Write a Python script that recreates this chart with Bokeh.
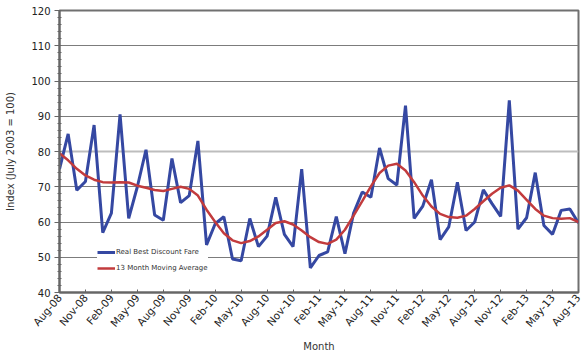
import math
from bokeh.plotting import figure
from bokeh.models import (ColumnDataSource, FixedTicker, SingleIntervalTicker, Legend, LegendItem, Grid, Range1d)
from bokeh.embed import file_html
from bokeh.resources import INLINE

# ---- data (monthly, Aug-08 .. Aug-13) ----
fare = [75, 85, 69, 71.5, 87.5, 57, 62.5, 90.5, 61, 70,
        80.5, 62, 60.5, 78, 65.5, 67.5, 83, 53.5, 59.5, 61.5,
        49.5, 49, 61, 53, 56, 67, 56.5, 53, 75, 47,
        50.5, 51.5, 61.5, 51, 62.5, 68.5, 67, 81, 72.3, 70.5,
        93, 61, 64.5, 72, 55, 58.6, 71.3, 57.6, 60, 69.1,
        65.2, 61.6, 94.5, 58, 61.2, 74, 59, 56.5, 63.3, 63.7,
        59.7]
moving_avg = [79.5, 77.5, 75.1, 73.2, 72, 71.3, 71.2, 71.3, 71.2, 70.3,
              69.7, 69.1, 68.8, 69.4, 70, 69.4, 67.5, 63.5, 60, 56.8,
              54.8, 54, 54.6, 55.9, 57.8, 59.7, 60.2, 59.3, 57.6, 55.7,
              54.3, 53.8, 55, 57.8, 61.8, 65.9, 70.1, 73.9, 76, 76.5,
              74.6, 71.3, 67.5, 64.4, 62.3, 61.4, 61.2, 61.8, 63.7, 65.9,
              68, 69.7, 70.4, 68.9, 66.3, 63.7, 61.8, 61.1, 60.9, 61.1,
              60]
tick_labels = ["Aug-08", "Nov-08", "Feb-09", "May-09", "Aug-09", "Nov-09", "Feb-10",
               "May-10", "Aug-10", "Nov-10", "Feb-11", "May-11", "Aug-11", "Nov-11",
               "Feb-12", "May-12", "Aug-12", "Nov-12", "Feb-13", "May-13", "Aug-13"]
month_idx = list(range(len(fare)))
tick_pos = [3 * k for k in range(len(tick_labels))]

FONT = "DejaVu Sans"
BLUE = "#3548a2"
RED = "#c23b3d"

src = ColumnDataSource(dict(x=month_idx, fare=fare, ma=moving_avg))

p = figure(width=582, height=357, output_backend="svg", toolbar_location=None,
           x_range=Range1d(0, len(fare) - 1), y_range=Range1d(40, 120),
           min_border_left=59, min_border_right=4, min_border_top=10, min_border_bottom=65)
p.background_fill_color = "white"
p.border_fill_color = "white"
p.outline_line_color = "#707070"
p.outline_line_width = 2

r1 = p.line("x", "fare", source=src, line_color=BLUE, line_width=3)
r2 = p.line("x", "ma", source=src, line_color=RED, line_width=2.5)

# axes
p.xaxis.ticker = FixedTicker(ticks=tick_pos)
p.xaxis.major_label_overrides = {pos: lab for pos, lab in zip(tick_pos, tick_labels)}
p.xaxis.major_label_orientation = 0.87
p.xaxis.major_tick_in = 3
p.xaxis.major_tick_out = 0
p.xaxis.axis_label = "Month"
p.xaxis.major_label_standoff = 3
p.xaxis.axis_label_standoff = 5

p.yaxis.ticker = SingleIntervalTicker(interval=10, num_minor_ticks=5)
p.yaxis.major_tick_in = 0
p.yaxis.major_tick_out = 5
p.yaxis.minor_tick_in = 2
p.yaxis.minor_tick_out = 2
p.yaxis.axis_label = "Index (July 2003 = 100)"
p.yaxis.major_label_standoff = 4
p.yaxis.axis_label_standoff = 12

for ax in (p.xaxis, p.yaxis):
    ax.axis_line_color = "#666666"
    ax.axis_line_width = 2
    ax.major_tick_line_color = "#666666"
    ax.major_label_text_font = FONT
    ax.major_label_text_color = "#222222"
    ax.axis_label_text_font = FONT
    ax.axis_label_text_font_size = "10px"
    ax.axis_label_text_font_style = "normal"
    ax.axis_label_text_color = "#333333"
p.xaxis.minor_tick_line_color = None
p.yaxis.minor_tick_line_color = "#666666"
p.xaxis.major_label_text_font_size = "10.5px"
p.yaxis.major_label_text_font_size = "10px"

p.xgrid.grid_line_color = None
p.ygrid.ticker = SingleIntervalTicker(interval=10)
p.ygrid.grid_line_color = "#7c7c7c"
p.ygrid.grid_line_width = 1
hl = Grid(dimension=1, ticker=FixedTicker(ticks=[80]), grid_line_color="#bdbdbd", grid_line_width=2)
p.add_layout(hl)

legend = Legend(items=[LegendItem(label="Real Best Discount Fare", renderers=[r1]),
                       LegendItem(label="13 Month Moving Average", renderers=[r2])],
                location=(38, 19))
legend.border_line_color = None
legend.background_fill_color = "white"
legend.background_fill_alpha = 1
legend.label_text_font = FONT
legend.label_text_font_size = "7px"
legend.label_text_color = "#333333"
legend.glyph_width = 18
legend.glyph_height = 10
legend.label_standoff = 1
legend.spacing = 6
legend.padding = 4
legend.margin = 0
legend.label_height = 10
p.add_layout(legend, "center")

open("out.html", "w").write(file_html(p, INLINE))
